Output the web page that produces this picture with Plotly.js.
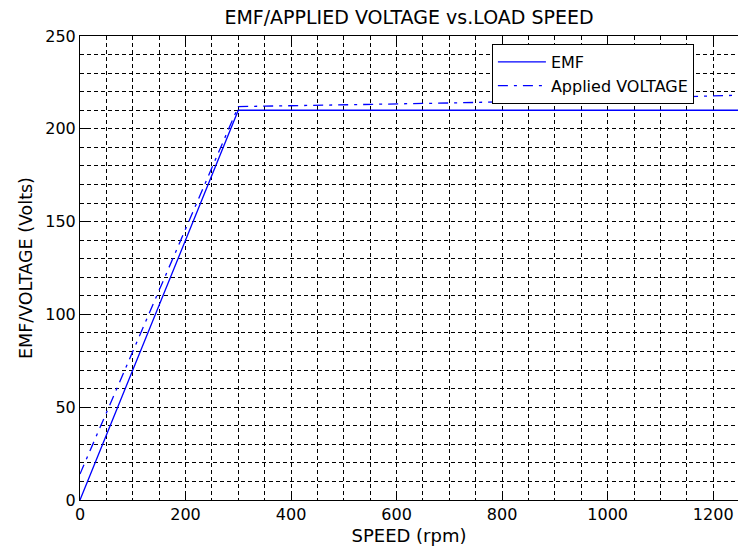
<!DOCTYPE html>
<html>
<head>
<meta charset="utf-8">
<script src="https://cdn.plot.ly/plotly-3.0.1.min.js"></script>
<style>
  html, body { margin: 0; padding: 0; background: #fff; }
  #chart { width: 738px; height: 553px; }
</style>
</head>
<body>
<div id="chart"></div>
<script>
// Data
const speed = [0, 50, 100, 150, 200, 250, 300, 350, 400, 450, 500, 550, 600, 650,
               700, 750, 800, 850, 900, 950, 1000, 1050, 1100, 1150, 1200, 1250];
const emf = [0, 35, 70, 105, 140, 175, 210, 210, 210, 210, 210, 210, 210, 210,
             210, 210, 210, 210, 210, 210, 210, 210, 210, 210, 210, 210];
const appliedVoltage = [14, 47, 81, 114, 146, 179, 212, 212.2, 212.4, 212.6, 212.8, 213.0, 213.3, 213.6,
                        213.9, 214.2, 214.6, 214.9, 215.3, 215.7, 216.1, 216.5, 216.9, 217.3, 217.7, 218.1];
const seriesNames = ['EMF', 'Applied VOLTAGE'];

const FONT = 'DejaVu Sans, Liberation Sans, Arial, sans-serif';
const BLUE = 'rgb(0,0,255)';

const traces = [
  { x: speed, y: emf, name: seriesNames[0], type: 'scatter', mode: 'lines',
    line: { color: BLUE, width: 1.3 } },
  { x: speed, y: appliedVoltage, name: seriesNames[1], type: 'scatter', mode: 'lines',
    line: { color: BLUE, width: 1.3, dash: '10px,6px,3px,6px' } }
];

const gridStyle = { showgrid: true, gridcolor: 'black', gridwidth: 1, griddash: '4px,3px' };

const layout = {
  width: 738, height: 553,
  margin: { l: 80, r: 0, t: 36, b: 53, pad: 0 },
  paper_bgcolor: 'white', plot_bgcolor: 'white',
  font: { family: FONT, color: 'black', size: 16 },
  title: { text: 'EMF/APPLIED VOLTAGE vs.LOAD SPEED', font: { family: FONT, size: 19, color: 'black' },
           x: 0.5, xref: 'paper', xanchor: 'center', y: 1 - 17 / 553, yref: 'container', yanchor: 'middle' },
  showlegend: true,
  legend: { x: 0.626, y: 0.983, xanchor: 'left', yanchor: 'top', bgcolor: 'white',
            bordercolor: 'black', borderwidth: 1, itemwidth: 48, tracegroupgap: 0,
            entrywidth: 256, entrywidthmode: 'pixels',
            font: { family: FONT, size: 16, color: 'black' } },
  xaxis: Object.assign({
    range: [0, 1247], tick0: 0, dtick: 200, ticks: 'inside', ticklen: 7, tickcolor: 'black', tickwidth: 1,
    showline: true, linecolor: 'black', linewidth: 1, mirror: 'ticks', zeroline: false,
    tickfont: { family: FONT, size: 16, color: 'black' },
    minor: Object.assign({ tick0: 0, dtick: 50, ticks: '' }, gridStyle),
    title: { text: 'SPEED (rpm)', font: { family: FONT, size: 18, color: 'black' }, standoff: 6 }
  }, gridStyle),
  yaxis: Object.assign({
    range: [0, 250], tick0: 0, dtick: 50, ticks: 'inside', ticklen: 7, tickcolor: 'black', tickwidth: 1,
    showline: true, linecolor: 'black', linewidth: 1, mirror: false, zeroline: false,
    tickfont: { family: FONT, size: 16, color: 'black' },
    minor: Object.assign({ tick0: 0, dtick: 10, ticks: '' }, gridStyle),
    title: { text: 'EMF/VOLTAGE (Volts)', font: { family: FONT, size: 17.5, color: 'black' }, standoff: 8 }
  }, gridStyle)
};

Plotly.newPlot('chart', traces, layout, { staticPlot: true, displayModeBar: false });
</script>
</body>
</html>
